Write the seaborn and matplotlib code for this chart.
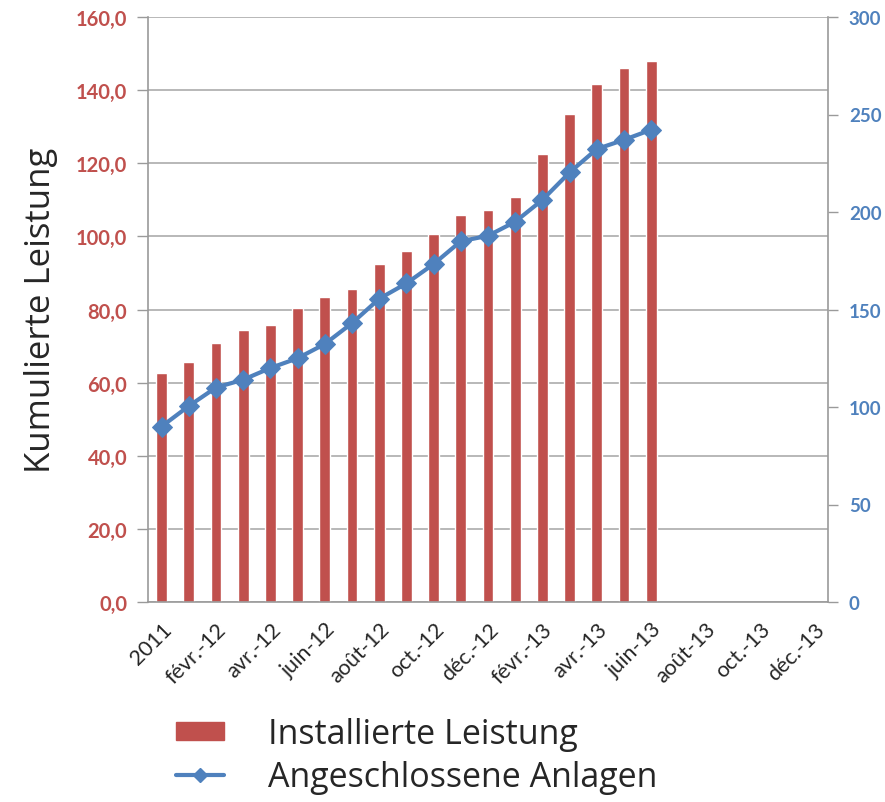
import pandas as pd
import numpy as np
import matplotlib.pyplot as plt
import seaborn as sns
from matplotlib.patches import Patch
from matplotlib.lines import Line2D

# Kategorien (Monate) und Werte
monate = ['2011', 'janv.-12', 'févr.-12', 'mars-12', 'avr.-12', 'mai-12', 'juin-12',
          'juil.-12', 'août-12', 'sept.-12', 'oct.-12', 'nov.-12', 'déc.-12',
          'janv.-13', 'févr.-13', 'mars-13', 'avr.-13', 'mai-13', 'juin-13',
          'juil.-13', 'août-13', 'sept.-13', 'oct.-13', 'nov.-13', 'déc.-13']
leistung = [62.5, 65.6, 70.8, 74.5, 75.8, 80.3, 83.5, 85.6, 92.4, 96.0, 100.6,
            105.8, 107.1, 110.8, 122.4, 133.5, 141.8, 146.1, 148.0]
anlagen = [90, 100.5, 110, 114, 120, 125, 132.3, 143, 155.5, 163.4, 173.3,
           185, 187.8, 195, 206.2, 220.3, 232.3, 237, 242.2]

rot = '#C0504D'
blau = '#4F81BD'

sns.set_style('white')
plt.rcParams['font.family'] = ['Lato', 'DejaVu Sans']

data = pd.DataFrame({'Monat': monate[:len(leistung)], 'Leistung': leistung, 'Anlagen': anlagen})

fig = plt.figure(figsize=(8.85, 8.03), dpi=100)
ax = fig.add_axes([148 / 885, 1 - 603 / 803, (828 - 148) / 885, (603 - 18) / 803])

sns.barplot(data=data, x='Monat', y='Leistung', order=monate, color=rot,
            saturation=1, width=0.4, ax=ax)
ax.set_xlim(-0.5, len(monate) - 0.5)
ax.set_ylim(0, 160)
ax.set_yticks(np.arange(0, 161, 20))
ax.set_yticklabels([f'{v:.1f}'.replace('.', ',') for v in np.arange(0, 161, 20)],
                   color=rot, fontweight='bold', fontsize=14.5)
ax.yaxis.grid(True, color='#ABABAB', linewidth=1.2)
ax.set_axisbelow(True)
ax.set_xlabel('')
ax.set_ylabel('Kumulierte Leistung', fontsize=25, labelpad=13,
              family=['Open Sans', 'DejaVu Sans'])

# x-Achse: Beschriftung jeden zweiten Monat, Teilstriche an Grenzen
ax.set_xticks(np.arange(0, len(monate), 2))
ax.set_xticklabels(monate[::2], rotation=45, ha='right', rotation_mode='anchor', fontsize=15.5)
ax.set_xticks(np.arange(-0.5, len(monate), 1), minor=True)
ax.tick_params(axis='x', which='major', length=0, pad=12)
ax.tick_params(axis='x', which='minor', length=6, color='#9A9A9A', width=1)
ax.tick_params(axis='y', length=8, color='#9A9A9A', width=1, pad=7, left=True)

for s in ['top', 'right']:
    ax.spines[s].set_visible(False)
for s in ['left', 'bottom']:
    ax.spines[s].set_color('#9A9A9A')
    ax.spines[s].set_linewidth(1.2)

# zweite Achse fuer Anlagen
ax2 = ax.twinx()
sns.lineplot(x=np.arange(len(anlagen)), y=anlagen, ax=ax2, color=blau, linewidth=3,
             marker='D', markersize=10, markeredgecolor=blau)
ax2.set_ylim(0, 300)
ax2.set_yticks(np.arange(0, 301, 50))
ax2.set_yticklabels([str(v) for v in range(0, 301, 50)], color=blau,
                    fontweight='bold', fontsize=13.5)
ax2.tick_params(axis='y', length=7, color='#9A9A9A', width=1, pad=8, right=True)
ax2.set_xlim(-0.5, len(monate) - 0.5)
for s in ['top', 'left', 'bottom']:
    ax2.spines[s].set_visible(False)
ax2.spines['right'].set_color('#9A9A9A')
ax2.spines['right'].set_linewidth(1.2)
ax2.grid(False)

handles = [Patch(facecolor=rot, edgecolor=rot),
           Line2D([0], [0], color=blau, linewidth=3, marker='D', markersize=7)]
fig.legend(handles, ['Installierte Leistung', 'Angeschlossene Anlagen'],
           loc='upper left', bbox_to_anchor=(176 / 885, 1 - 718 / 803), frameon=False,
           prop={'family': ['Open Sans', 'DejaVu Sans'], 'size': 24.5},
           handlelength=1.4, handleheight=0.45, handletextpad=1.3, labelspacing=0.25,
           borderpad=0, borderaxespad=0)

fig.savefig('out.png', dpi=100)
